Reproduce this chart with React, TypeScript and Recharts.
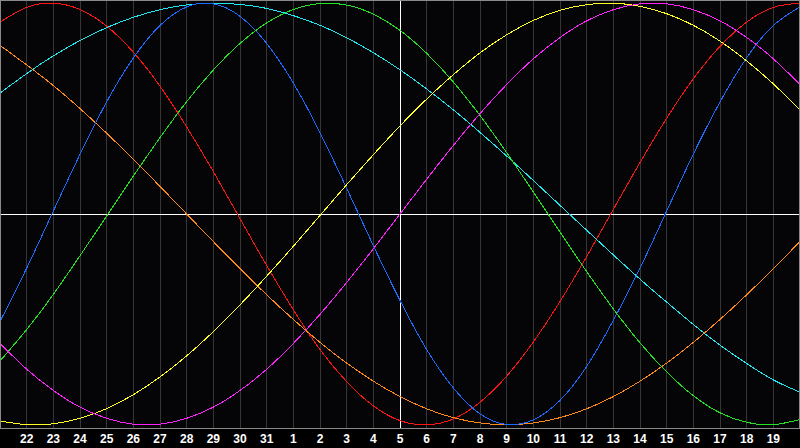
import React from "react";
import { LineChart, Line, XAxis, YAxis, CartesianGrid, ReferenceLine } from "recharts";

// Day labels for each index 0..30 (index 15 = today, "5")
const dayLabels = [
  "21", "22", "23", "24", "25", "26", "27", "28", "29", "30", "31",
  "1", "2", "3", "4", "5", "6", "7", "8", "9", "10",
  "11", "12", "13", "14", "15", "16", "17", "18", "19", "20",
];
const tickIndices = [1, 2, 3, 4, 5, 6, 7, 8, 9, 10, 11, 12, 13, 14, 15, 16, 17, 18, 19, 20, 21, 22, 23, 24, 25, 26, 27, 28, 29];

const red = [0.91, 0.98, 1.0, 0.97, 0.891, 0.768, 0.606, 0.413, 0.201, -0.022, -0.244, -0.454, -0.643, -0.795, -0.91, -0.98, -1.0, -0.972, -0.893, -0.769, -0.607, -0.415, -0.202, 0.022, 0.244, 0.454, 0.641, 0.795, 0.91, 0.98, 1.0];
const orange = [0.8, 0.707, 0.609, 0.5, 0.383, 0.259, 0.131, 0.0, -0.131, -0.259, -0.383, -0.5, -0.609, -0.707, -0.793, -0.866, -0.924, -0.966, -0.991, -1.0, -0.991, -0.966, -0.924, -0.866, -0.793, -0.707, -0.609, -0.5, -0.383, -0.259, -0.131];
const cyan = [0.573, 0.666, 0.75, 0.823, 0.884, 0.933, 0.969, 0.992, 1.0, 0.994, 0.975, 0.941, 0.895, 0.836, 0.765, 0.684, 0.593, 0.494, 0.387, 0.275, 0.159, 0.041, -0.077, -0.194, -0.309, -0.418, -0.524, -0.622, -0.709, -0.787, -0.845];
const blue = [-0.51, -0.257, 0.014, 0.283, 0.532, 0.74, 0.894, 0.982, 0.997, 0.938, 0.809, 0.621, 0.386, 0.122, -0.15, -0.41, -0.643, -0.825, -0.948, -0.998, -0.976, -0.884, -0.723, -0.504, -0.257, 0.014, 0.284, 0.531, 0.741, 0.894, 0.982];
const green = [-0.697, -0.548, -0.381, -0.198, -0.01, 0.18, 0.362, 0.533, 0.683, 0.809, 0.906, 0.97, 0.998, 0.991, 0.948, 0.871, 0.762, 0.626, 0.467, 0.291, 0.104, -0.086, -0.273, -0.45, -0.611, -0.749, -0.862, -0.943, -0.988, -0.999, -0.975];
const yellow = [-0.982, -0.999, -0.995, -0.969, -0.923, -0.857, -0.773, -0.673, -0.558, -0.431, -0.295, -0.153, -0.007, 0.139, 0.281, 0.418, 0.545, 0.661, 0.764, 0.85, 0.918, 0.966, 0.993, 1.0, 0.985, 0.95, 0.895, 0.82, 0.726, 0.617, 0.493];
const magenta = [-0.614, -0.736, -0.837, -0.916, -0.969, -0.997, -0.997, -0.969, -0.916, -0.837, -0.736, -0.614, -0.476, -0.325, -0.165, 0.0, 0.165, 0.325, 0.476, 0.614, 0.736, 0.837, 0.916, 0.969, 0.997, 0.997, 0.969, 0.916, 0.837, 0.736, 0.614];

const seriesDefs = [
  { key: "red", values: red, color: "#ff1414" },
  { key: "orange", values: orange, color: "#ff8a1a" },
  { key: "cyan", values: cyan, color: "#20e8f0" },
  { key: "blue", values: blue, color: "#1e6cff" },
  { key: "green", values: green, color: "#22e422" },
  { key: "yellow", values: yellow, color: "#ffff22" },
  { key: "magenta", values: magenta, color: "#ff22ff" },
];

const data = dayLabels.map((label, i) => {
  const row: Record<string, number | string> = { idx: i, label };
  seriesDefs.forEach((s) => {
    row[s.key] = s.values[i];
  });
  return row;
});

const DayTick = (props: any) => {
  const { x, payload } = props;
  return (
    <text
      x={x}
      y={443}
      textAnchor="middle"
      fill="#ffffff"
      fontSize={12}
      fontWeight="bold"
      fontFamily="'Liberation Sans', Arial, sans-serif"
    >
      {dayLabels[payload.value]}
    </text>
  );
};

export default function App() {
  return (
    <div style={{ position: "fixed", left: 0, top: 0, width: 800, height: 448, background: "#000000", overflow: "hidden" }}>
      <LineChart width={800} height={448} data={data} margin={{ top: 0, right: 0, bottom: 0, left: 0 }}>
        <CartesianGrid horizontal={false} stroke="#363636" fill="#050508" shapeRendering="crispEdges" />
        <XAxis
          dataKey="idx"
          type="number"
          domain={[0, 30]}
          ticks={tickIndices}
          height={20}
          axisLine={{ stroke: "#9a9a9a", shapeRendering: "crispEdges" }}
          tickLine={false}
          tick={<DayTick />}
          interval={0}
        />
        <YAxis hide domain={[-1.015, 1.015]} />
        <ReferenceLine y={0} stroke="#ffffff" strokeWidth={1} shapeRendering="crispEdges" />
        <ReferenceLine x={15} stroke="#ffffff" strokeWidth={1} shapeRendering="crispEdges" />
        {seriesDefs.map((s) => (
          <Line
            key={s.key}
            dataKey={s.key}
            type="natural"
            stroke={s.color}
            strokeWidth={1}
            dot={false}
            activeDot={false}
            isAnimationActive={false}
            shapeRendering="crispEdges"
          />
        ))}
      </LineChart>
      <div
        style={{
          position: "absolute",
          left: 0,
          top: 0,
          width: 800,
          height: 429,
          boxSizing: "border-box",
          border: "1px solid #8a8a8a",
          pointerEvents: "none",
        }}
      />
    </div>
  );
}
